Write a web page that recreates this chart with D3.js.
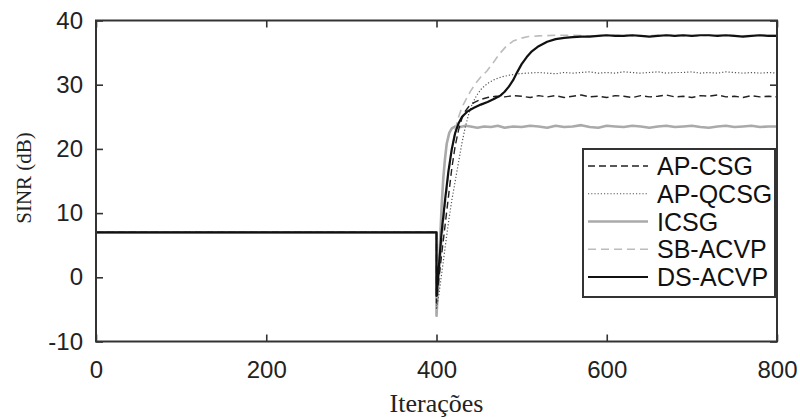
<!DOCTYPE html>
<html>
<head>
<meta charset="utf-8">
<script src="https://cdn.jsdelivr.net/npm/d3@7/dist/d3.min.js"></script>
<style>
  html, body { margin: 0; padding: 0; background: #fff; }
  svg { display: block; }
</style>
</head>
<body>
<svg id="chart" width="800" height="419"></svg>
<script>
// Axis ticks
const iterTicks = [0, 200, 400, 600, 800];
const sinrTicks = [-10, 0, 10, 20, 30, 40];

// SINR (dB) versus iteration, one [iteration, dB] list per algorithm
const apCsg = [[0,7],[400,7],[400,-4],[403,0],[406,3.5],[410,8],[414,12.5],[418,17],[422,20.5],[426,23],[430,24.8],[434,25.9],[438,26.6],[444,27.2],[452,27.7],[460,28],[470,28.2],[480,28.1],[490,28.3],[500,28.2],[510,28.0],[520,28.3],[530,28.1],[540,28.3],[550,28.0],[560,28.2],[570,28.4],[580,28.1],[590,28.2],[600,28.0],[610,28.3],[620,28.2],[630,28.0],[640,28.3],[650,28.1],[660,28.2],[670,28.4],[680,28.1],[690,28.2],[700,28.0],[710,28.3],[720,28.2],[730,28.4],[740,28.1],[750,28.2],[760,28.0],[770,28.3],[780,28.1],[790,28.2],[800,28.1]];
const apQcsg = [[0,7],[400,7],[400,-5],[403,-2.5],[406,0.5],[410,4.5],[414,8.5],[418,12],[422,15],[426,18],[430,21],[434,23.5],[438,25.5],[442,27],[447,28.3],[453,29.4],[460,30.2],[468,30.8],[476,31.2],[486,31.5],[496,31.7],[506,31.8],[520,31.9],[530,31.8],[540,31.7],[550,31.9],[560,31.8],[570,31.9],[580,32.0],[590,31.8],[600,31.9],[610,31.8],[620,32.0],[630,31.9],[640,31.8],[650,31.9],[660,32.0],[670,31.8],[680,31.9],[690,31.9],[700,32.0],[710,31.8],[720,31.9],[730,31.8],[740,32.0],[750,31.9],[760,31.8],[770,31.9],[780,31.8],[790,31.9],[800,31.8]];
const icsg = [[0,7],[400,7],[400,-6],[402,-1],[404,5],[406,11],[408,15.5],[410,18.5],[412,20.8],[415,22.5],[418,23.2],[422,23.5],[428,23.4],[434,23.6],[440,23.5],[448,23.3],[456,23.5],[464,23.4],[472,23.6],[480,23.3],[490,23.5],[500,23.4],[510,23.6],[520,23.5],[530,23.3],[540,23.6],[550,23.4],[560,23.5],[570,23.7],[580,23.4],[590,23.3],[600,23.6],[610,23.5],[620,23.4],[630,23.6],[640,23.5],[650,23.3],[660,23.5],[670,23.6],[680,23.4],[690,23.5],[700,23.6],[710,23.4],[720,23.3],[730,23.5],[740,23.6],[750,23.4],[760,23.5],[770,23.6],[780,23.4],[790,23.5],[800,23.5]];
const sbAcvp = [[0,7],[400,7],[400,-5],[403,-0.5],[406,5],[410,11],[414,16],[418,20],[422,23],[426,25],[430,26.5],[435,27.8],[440,29],[446,30.2],[452,31.2],[459,32.1],[466,33.3],[474,34.8],[482,36],[490,36.8],[498,37.2],[508,37.5],[520,37.6],[540,37.7],[560,37.7],[580,37.6],[600,37.7],[620,37.7],[640,37.6],[660,37.7],[680,37.7],[700,37.6],[720,37.7],[740,37.7],[760,37.6],[780,37.7],[800,37.7]];
const dsAcvp = [[0,7],[400,7],[400,-2.9],[403,2],[406,7],[410,12],[414,16.5],[418,20],[422,22.5],[426,24],[430,25],[436,25.8],[444,26.4],[452,26.9],[460,27.3],[468,27.8],[475,28.3],[480,28.9],[485,29.7],[490,30.7],[495,32],[500,33.2],[506,34.3],[512,35.2],[520,36.0],[530,36.7],[540,37.1],[550,37.3],[560,37.4],[570,37.5],[580,37.5],[590,37.6],[600,37.7],[610,37.6],[620,37.6],[630,37.7],[640,37.6],[650,37.5],[660,37.6],[670,37.7],[680,37.6],[690,37.7],[700,37.6],[710,37.7],[720,37.7],[730,37.6],[740,37.7],[750,37.6],[760,37.5],[770,37.6],[780,37.7],[790,37.6],[800,37.6]];

const seriesNames = ["AP-CSG", "AP-QCSG", "ICSG", "SB-ACVP", "DS-ACVP"];
const seriesData = [apCsg, apQcsg, icsg, sbAcvp, dsAcvp];

// Line styles per algorithm
const styles = {
  "AP-CSG":  { color: "#222", width: 1.4, dash: "7,4" },
  "AP-QCSG": { color: "#555", width: 1.2, dash: "1.2,2" },
  "ICSG":    { color: "#aaa", width: 2.6, dash: null },
  "SB-ACVP": { color: "#bcbcbc", width: 1.6, dash: "8,5" },
  "DS-ACVP": { color: "#111", width: 2.2, dash: null }
};
// draw order, darkest on top
const drawOrder = ["ICSG", "SB-ACVP", "AP-QCSG", "AP-CSG", "DS-ACVP"];

const svg = d3.select("#chart");
const plotLeft = 96, plotRight = 777, plotTop = 20.5, plotBottom = 341.5;

const x = d3.scaleLinear().domain([0, 800]).range([plotLeft, plotRight]);
const y = d3.scaleLinear().domain([-10, 40]).range([plotBottom, plotTop]);

svg.append("rect").attr("width", 800).attr("height", 419).attr("fill", "#fff");

const line = d3.line().x(d => x(d[0])).y(d => y(d[1]));

const plot = svg.append("g");
drawOrder.forEach(name => {
  const s = styles[name];
  plot.append("path")
    .datum(seriesData[seriesNames.indexOf(name)])
    .attr("fill", "none")
    .attr("stroke", s.color)
    .attr("stroke-width", s.width)
    .attr("stroke-dasharray", s.dash)
    .attr("stroke-linejoin", "round")
    .attr("d", line);
});

// Axes with inward ticks on all four sides; plain hyphen for negatives
const font = "'Liberation Sans', Arial, sans-serif";
const plainNum = d => String(d);
function styleAxis(g) {
  g.select(".domain").remove();
  g.selectAll(".tick line").attr("stroke", "#333").attr("stroke-width", 1.6);
  g.selectAll(".tick text").attr("fill", "#222").style("font-family", font).style("font-size", "24px");
}

svg.append("g").attr("transform", `translate(0,${plotBottom})`)
  .call(d3.axisBottom(x).tickValues(iterTicks).tickFormat(plainNum).tickSize(-7).tickPadding(19))
  .call(styleAxis);
svg.append("g").attr("transform", `translate(0,${plotTop})`)
  .call(d3.axisTop(x).tickValues(iterTicks).tickSize(-7).tickFormat(""))
  .call(styleAxis);
svg.append("g").attr("transform", `translate(${plotLeft},0)`)
  .call(d3.axisLeft(y).tickValues(sinrTicks).tickFormat(plainNum).tickSize(-7).tickPadding(13))
  .call(styleAxis);
svg.append("g").attr("transform", `translate(${plotRight},0)`)
  .call(d3.axisRight(y).tickValues(sinrTicks).tickSize(-7).tickFormat(""))
  .call(styleAxis);

svg.append("rect")
  .attr("x", plotLeft).attr("y", plotTop)
  .attr("width", plotRight - plotLeft).attr("height", plotBottom - plotTop)
  .attr("fill", "none").attr("stroke", "#333").attr("stroke-width", 2);

// Axis titles
svg.append("text")
  .attr("x", (plotLeft + plotRight) / 2).attr("y", 412)
  .attr("text-anchor", "middle")
  .style("font-family", "'Liberation Serif', 'Times New Roman', serif")
  .style("font-size", "26px").attr("fill", "#222")
  .text("Iterações");
svg.append("text")
  .attr("transform", "translate(31,178) rotate(-90)")
  .attr("text-anchor", "middle")
  .style("font-family", "'Liberation Serif', 'Times New Roman', serif")
  .style("font-size", "21px").attr("fill", "#222")
  .text("SINR (dB)");

// Legend
const lg = svg.append("g");
lg.append("rect")
  .attr("x", 583).attr("y", 149).attr("width", 192).attr("height", 148)
  .attr("fill", "#fff").attr("stroke", "#333").attr("stroke-width", 2);
const rowY = d3.scalePoint().domain(seriesNames).range([166, 277]);
seriesNames.forEach(name => {
  const s = styles[name];
  const yy = rowY(name);
  lg.append("line")
    .attr("x1", 588).attr("x2", 648).attr("y1", yy).attr("y2", yy)
    .attr("stroke", s.color).attr("stroke-width", s.width)
    .attr("stroke-dasharray", s.dash);
  lg.append("text")
    .attr("x", 657).attr("y", yy).attr("dy", "0.36em")
    .style("font-family", font).style("font-size", "25px").attr("fill", "#111")
    .text(name);
});
</script>
</body>
</html>
